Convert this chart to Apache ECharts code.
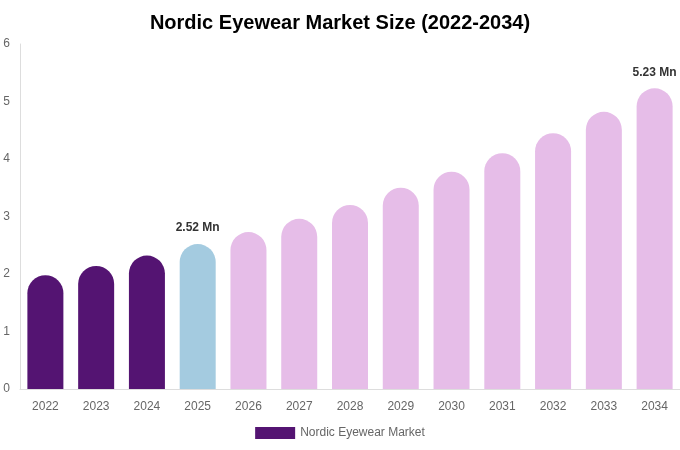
<!DOCTYPE html>
<html><head><meta charset="utf-8">
<script src="https://cdn.jsdelivr.net/npm/echarts@6/dist/echarts.min.js"></script>
<style>html,body{margin:0;padding:0;background:#fff}#c{width:680px;height:450px}</style>
</head><body><div id="c"></div>
<script>
const years = ['2022','2023','2024','2025','2026','2027','2028','2029','2030','2031','2032','2033','2034'];
const values = [1.98, 2.14, 2.32, 2.52, 2.73, 2.96, 3.20, 3.50, 3.78, 4.10, 4.45, 4.82, 5.23];
const barColors = ['#541472','#541472','#541472','#a4cbe0','#e6bde8','#e6bde8','#e6bde8','#e6bde8','#e6bde8','#e6bde8','#e6bde8','#e6bde8','#e6bde8'];
const labelYears = ['2025','2034'];
const chart = echarts.init(document.getElementById('c'));
chart.setOption({
  animation: false,
  title: { text: 'Nordic Eyewear Market Size (2022-2034)', left: 'center', top: 8,
    textStyle: { fontFamily: 'Liberation Sans, Arial, sans-serif', fontSize: 20, fontWeight: 'bold', color: '#000' } },
  legend: { bottom: 6, icon: 'rect', itemWidth: 40, itemHeight: 12, itemGap: 6,
    textStyle: { color: '#666', fontSize: 12, fontFamily: 'Liberation Sans, Arial, sans-serif' },
    data: [{ name: 'Nordic Eyewear Market', itemStyle: { color: '#541472' } }] },
  grid: { left: 20, right: 0, top: 44, bottom: 61, containLabel: false },
  xAxis: { type: 'category', data: years,
    axisLine: { lineStyle: { color: '#ddd' } }, axisTick: { show: false },
    axisLabel: { color: '#666', fontSize: 12, margin: 12, fontFamily: 'Liberation Sans, Arial, sans-serif' } },
  yAxis: { type: 'value', min: 0, max: 6, interval: 1,
    axisLine: { show: true, lineStyle: { color: '#ddd' } }, axisTick: { show: false },
    splitLine: { show: false },
    axisLabel: { color: '#666', fontSize: 12, margin: 10, fontFamily: 'Liberation Sans, Arial, sans-serif' } },
  series: [{
    name: 'Nordic Eyewear Market', type: 'bar', barWidth: 36,
    data: values.map((v, i) => ({ value: v, itemStyle: { color: barColors[i], borderRadius: [18,18,0,0] },
      label: { show: labelYears.includes(years[i]), position: 'top', distance: 10,
        formatter: v.toFixed(2) + ' Mn', fontWeight: 'bold', fontSize: 12, color: '#333',
        fontFamily: 'Liberation Sans, Arial, sans-serif' } }))
  }]
});
</script></body></html>
